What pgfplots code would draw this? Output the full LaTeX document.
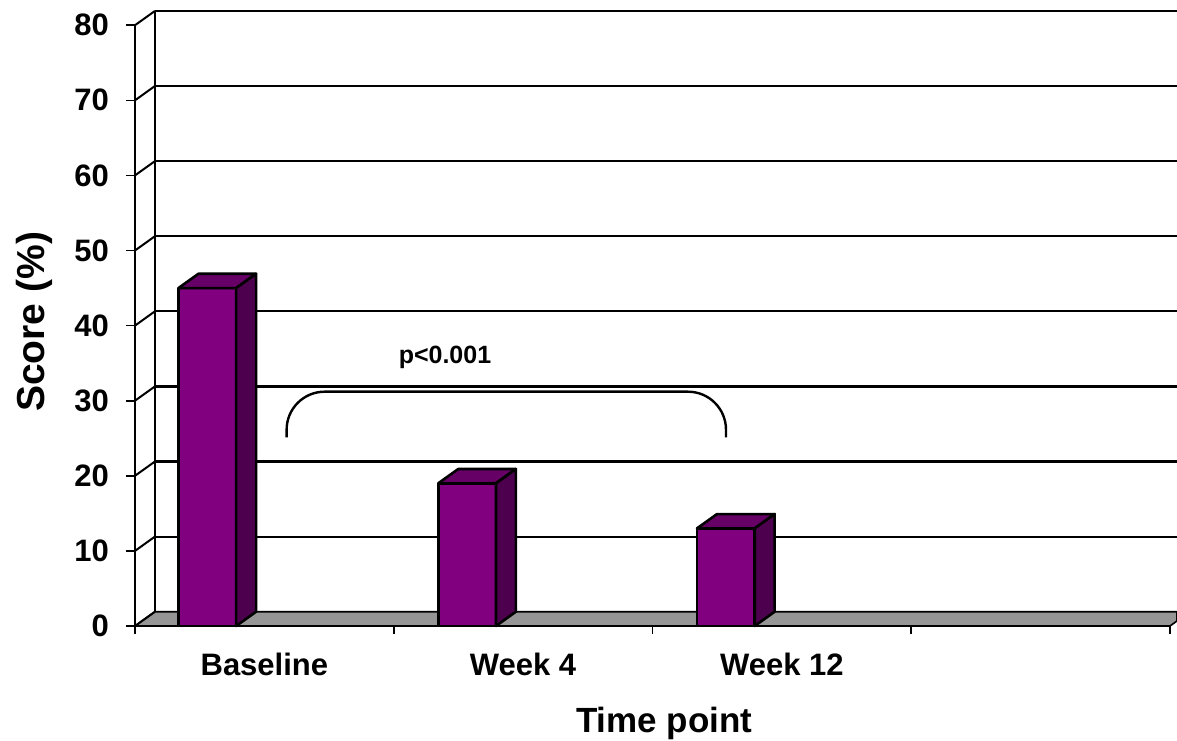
\documentclass[border=0pt]{standalone}
\usepackage{pgfplots}
\pgfplotsset{compat=1.18}
\usepackage{fontspec}
\setmainfont{Liberation Sans}
\definecolor{barfront}{HTML}{800080}
\definecolor{bartop}{HTML}{660066}
\definecolor{barside}{HTML}{4D004D}
\definecolor{floorgray}{HTML}{969696}
\begin{document}
\begin{tikzpicture}
\begin{axis}[
  name=ax,
  scale only axis, width=521pt, height=313pt,
  xmin=0, xmax=4.027, ymin=0, ymax=83.36,
  clip=false, no markers,
  axis line style={draw=none},
  xtick={0.5,1.5,2.5}, xticklabels={Baseline,Week 4,Week 12},
  minor xtick={0,1,2,3,4},
  ytick={0,10,...,80},
  xtick pos=bottom, ytick pos=left,
  tick align=outside,
  major tick length=4.5pt, minor tick length=4pt,
  major x tick style={draw=none},
  minor x tick style={black, line width=0.8pt},
  major y tick style={black, line width=0.8pt},
  /pgf/number format/assume math mode=true,
  yticklabel style={font=\bfseries\fontsize{15.5}{18}\selectfont, xshift=-5pt},
  xticklabel style={font=\bfseries\fontsize{15.5}{18}\selectfont, yshift=-5.5pt},
  xlabel={Time point}, ylabel={Score (\%)},
  xlabel style={font=\bfseries\fontsize{17.5}{20}\selectfont, at={(axis description cs:0.508,-0.155)}, anchor=center},
  ylabel style={font=\bfseries\fontsize{19.5}{22}\selectfont, at={(axis description cs:-0.097,0.486)}, anchor=center},
]
% floor
\addplot[fill=floorgray, draw=black, line width=0.8pt] coordinates {(0,0) (4,0) (4.027,0.67) (4.027,1.9) (0.077,1.9)} -- cycle;
\addplot[black, line width=1.4pt] coordinates {(0,0) (4,0)};
% back wall grid lines
\addplot[black, line width=1.1pt] coordinates {(0.077,11.9) (4.027,11.9)};
\addplot[black, line width=1.1pt] coordinates {(0.077,21.9) (4.027,21.9)};
\addplot[black, line width=1.1pt] coordinates {(0.077,31.9) (4.027,31.9)};
\addplot[black, line width=1.1pt] coordinates {(0.077,41.9) (4.027,41.9)};
\addplot[black, line width=1.1pt] coordinates {(0.077,51.9) (4.027,51.9)};
\addplot[black, line width=1.1pt] coordinates {(0.077,61.9) (4.027,61.9)};
\addplot[black, line width=1.1pt] coordinates {(0.077,71.9) (4.027,71.9)};
\addplot[black, line width=1.1pt] coordinates {(0.077,81.9) (4.027,81.9)};
\addplot[black, line width=1.1pt] coordinates {(0.077,1.9) (0.077,81.9)};
% side wall diagonals
\addplot[black, line width=1pt] coordinates {(0,0) (0.077,1.9)};
\addplot[black, line width=1pt] coordinates {(0,10) (0.077,11.9)};
\addplot[black, line width=1pt] coordinates {(0,20) (0.077,21.9)};
\addplot[black, line width=1pt] coordinates {(0,30) (0.077,31.9)};
\addplot[black, line width=1pt] coordinates {(0,40) (0.077,41.9)};
\addplot[black, line width=1pt] coordinates {(0,50) (0.077,51.9)};
\addplot[black, line width=1pt] coordinates {(0,60) (0.077,61.9)};
\addplot[black, line width=1pt] coordinates {(0,70) (0.077,71.9)};
\addplot[black, line width=1pt] coordinates {(0,80) (0.077,81.9)};
% front axis
\addplot[black, line width=1pt] coordinates {(0,0) (0,80)};
% Baseline = 45
\addplot[fill=barfront, draw=black, line width=1.3pt, line join=round] coordinates {(0.168,0) (0.391,0) (0.391,45) (0.168,45)} -- cycle;
\addplot[fill=bartop, draw=black, line width=1.3pt, line join=round] coordinates {(0.168,45) (0.391,45) (0.468,46.9) (0.245,46.9)} -- cycle;
\addplot[fill=barside, draw=black, line width=1.3pt, line join=round] coordinates {(0.391,0) (0.468,1.9) (0.468,46.9) (0.391,45)} -- cycle;
% Week 4 = 19
\addplot[fill=barfront, draw=black, line width=1.3pt, line join=round] coordinates {(1.172,0) (1.395,0) (1.395,19) (1.172,19)} -- cycle;
\addplot[fill=bartop, draw=black, line width=1.3pt, line join=round] coordinates {(1.172,19) (1.395,19) (1.472,20.9) (1.249,20.9)} -- cycle;
\addplot[fill=barside, draw=black, line width=1.3pt, line join=round] coordinates {(1.395,0) (1.472,1.9) (1.472,20.9) (1.395,19)} -- cycle;
% Week 12 = 13
\addplot[fill=barfront, draw=black, line width=1.3pt, line join=round] coordinates {(2.172,0) (2.395,0) (2.395,13) (2.172,13)} -- cycle;
\addplot[fill=bartop, draw=black, line width=1.3pt, line join=round] coordinates {(2.172,13) (2.395,13) (2.472,14.9) (2.249,14.9)} -- cycle;
\addplot[fill=barside, draw=black, line width=1.3pt, line join=round] coordinates {(2.395,0) (2.472,1.9) (2.472,14.9) (2.395,13)} -- cycle;
% bracket
\addplot[black, line width=1.2pt, rounded corners=19pt] coordinates {(0.586,25.1) (0.586,31.2) (2.284,31.2) (2.284,25.1)};
\node[font=\bfseries\fontsize{12.5}{15}\selectfont] at (axis cs:1.198,35.8) {p<0.001};
\end{axis}
\pgfresetboundingbox
\path (ax.south west) ++(-67.5pt,-57.5pt) rectangle (ax.north east);
\end{tikzpicture}
\end{document}
